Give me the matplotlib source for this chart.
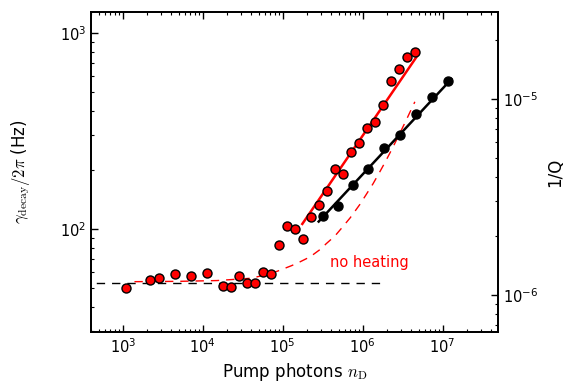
import matplotlib
matplotlib.use('Agg')
import matplotlib.pyplot as plt
import numpy as np

plt.rcParams['mathtext.fontset'] = 'cm'
plt.rcParams['font.family'] = 'DejaVu Sans'

# measured points, heated (red) and reference (black)
n_red = [1.09e3, 2.22e3, 2.84e3, 4.47e3, 7.14e3, 1.12e4, 1.78e4, 2.24e4, 2.82e4,
         3.55e4, 4.47e4, 5.62e4, 7.08e4, 8.91e4, 1.12e5, 1.41e5, 1.78e5, 2.24e5,
         2.82e5, 3.55e5, 4.47e5, 5.62e5, 7.08e5, 8.91e5, 1.12e6, 1.41e6, 1.78e6,
         2.24e6, 2.82e6, 3.55e6, 4.47e6]
g_red = [49.8, 55.1, 56.0, 59.2, 57.8, 59.7, 51.2, 50.4, 57.8, 52.9, 53.2, 60.5,
         59.2, 83.2, 104, 100.3, 88.9, 115, 132, 156, 202, 191, 247, 275, 329,
         351, 431, 565, 655, 751, 798]
n_blk = [3.16e5, 4.9e5, 7.6e5, 1.17e6, 1.86e6, 2.95e6, 4.68e6, 7.4e6, 1.17e7]
g_blk = [117, 131.5, 167, 202, 259, 303, 387, 470, 565]

# fit lines (end points)
n_fit_red = [1.76e5, 4.69e6]
g_fit_red = [106, 751]
n_fit_blk = [2.82e5, 1.29e7]
g_fit_blk = [109, 581]

# "no heating" model curve
n_noheat = [1.4e3, 5e3, 1.5e4, 4e4, 7e4, 9.2e4, 1.3e5, 1.6e5, 2.2e5, 3e5, 3.5e5,
            4.5e5, 5.7e5, 7e5, 9.2e5, 1.1e6, 1.35e6, 1.6e6, 1.9e6, 2.3e6, 2.8e6,
            3.5e6, 4.5e6]
g_noheat = [53.8, 54.0, 54.5, 56.0, 59.0, 61.5, 65, 67.5, 72, 79, 84, 92, 103,
            114, 133, 149, 170, 192, 218, 253, 297, 358, 445]

# intrinsic level
n_base = [300, 1.8e6]
g_base = [52.9, 52.9]

f0 = 4.6e7  # converts decay rate to 1/Q

fig = plt.figure(figsize=(5.65, 3.82), dpi=100)
ax = fig.add_axes([0.161, 0.131, 0.72, 0.838])

ax.plot(n_base, g_base, '--', color='k', lw=1, dashes=(6, 5))
ax.plot(n_noheat, g_noheat, '--', color='r', lw=1, dashes=(6, 5))
ax.plot(n_fit_red, g_fit_red, '-', color='r', lw=1.8)
ax.plot(n_fit_blk, g_fit_blk, '-', color='k', lw=1.8)
ax.plot(n_red, g_red, 'o', color='r', mec='k', mew=1, ms=6.5)
ax.plot(n_blk, g_blk, 'o', color='k', mec='k', mew=1, ms=6.5)

ax.text(3.9e5, 64, 'no heating', color='r', fontsize=10.5)

ax.set_xscale('log')
ax.set_yscale('log')
ax.set_xlim(400, 4.9e7)
ax.set_ylim(29.8, 1280)
ax.set_xlabel(r'Pump photons $n_{\rm D}$', fontsize=12)
ax.set_ylabel(r'$\gamma_{\rm decay}/2\pi$ (Hz)', fontsize=12)
ax.yaxis.set_label_coords(-0.145, 0.5)
ax.tick_params(which='both', direction='in', top=True, right=False, labelsize=10.5)
ax.tick_params(which='major', length=5, width=1)
ax.tick_params(which='minor', length=2.5, width=0.8)

ax2 = ax.twinx()
ax2.set_yscale('log')
ax2.set_ylim(29.8 / f0, 1280 / f0)
ax2.set_ylabel('1/Q', fontsize=12)
ax2.yaxis.set_label_coords(1.12, 0.5)
ax2.tick_params(which='both', direction='in', labelsize=10.5)
ax2.tick_params(which='major', length=5, width=1)
ax2.tick_params(which='minor', length=2.5, width=0.8)

for a in (ax, ax2):
    for s in a.spines.values():
        s.set_linewidth(1.3)

fig.savefig('out.png', dpi=100)
